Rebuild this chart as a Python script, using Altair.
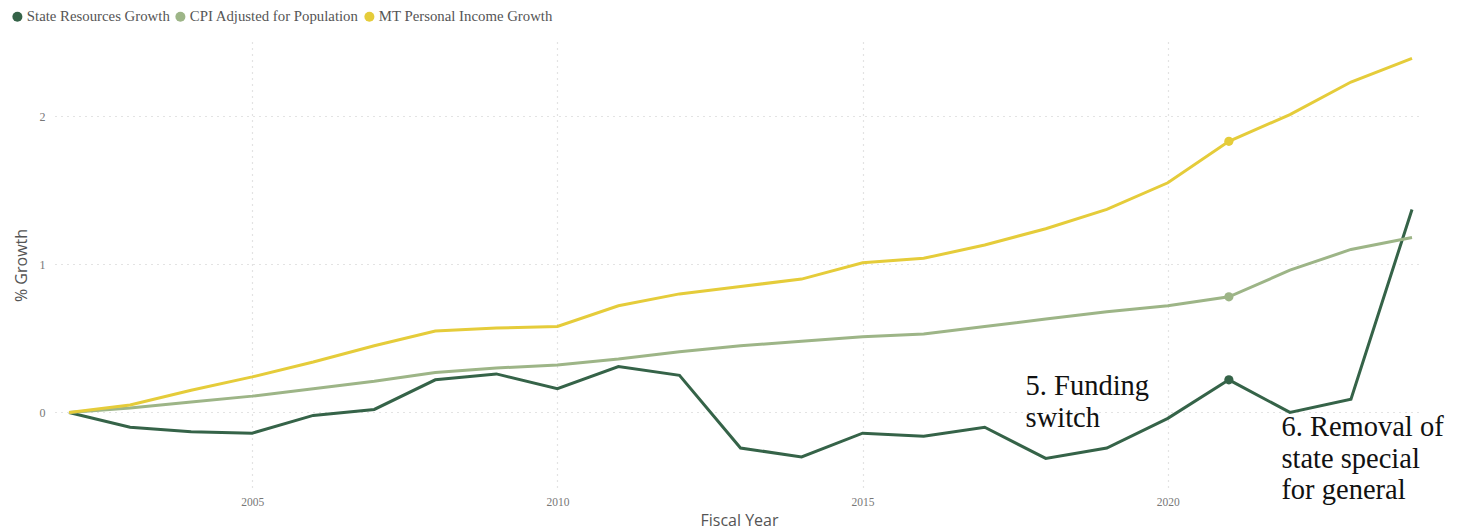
import altair as alt
import pandas as pd

years = list(range(2002, 2025))
state_resources = [0.0, -0.10, -0.13, -0.14, -0.02, 0.02, 0.22, 0.26, 0.16, 0.31, 0.25,
                   -0.24, -0.30, -0.14, -0.16, -0.10, -0.31, -0.24, -0.04, 0.22, 0.0, 0.09, 1.37]
cpi_adjusted = [0.0, 0.03, 0.07, 0.11, 0.16, 0.21, 0.27, 0.30, 0.32, 0.36, 0.41,
                0.45, 0.48, 0.51, 0.53, 0.58, 0.63, 0.68, 0.72, 0.78, 0.96, 1.10, 1.18]
mt_income = [0.0, 0.05, 0.15, 0.24, 0.34, 0.45, 0.55, 0.57, 0.58, 0.72, 0.80,
             0.85, 0.90, 1.01, 1.04, 1.13, 1.24, 1.37, 1.55, 1.83, 2.01, 2.23, 2.39]

series_names = ["State Resources Growth", "CPI Adjusted for Population", "MT Personal Income Growth"]
series_colors = ["#356348", "#9DB587", "#E5CC3A"]
marker_year = 2021

annotations = [
    {"year": 2017.67, "value": 0.176, "label": "5. Funding\nswitch"},
    {"year": 2021.86, "value": -0.10, "label": "6. Removal of\nstate special\nfor general"},
]

rows = []
for name, vals in zip(series_names, [state_resources, cpi_adjusted, mt_income]):
    for y, v in zip(years, vals):
        rows.append({"Fiscal Year": y, "Growth": v, "Series": name})
df = pd.DataFrame(rows)
ann_df = pd.DataFrame(annotations)

x_scale = alt.Scale(domain=[2001.77, 2024.18], nice=False, zero=False)
y_scale = alt.Scale(domain=[-0.51, 2.5], nice=False, zero=False)
color_scale = alt.Scale(domain=series_names, range=series_colors)

x_enc = alt.X("Fiscal Year:Q", scale=x_scale,
              axis=alt.Axis(values=[2005, 2010, 2015, 2020], format="d", title="Fiscal Year",
                            grid=True, gridDash=[1, 5], gridColor="#C8C8C8", gridWidth=1.2,
                            domain=False, ticks=False, labelFont="Liberation Serif",
                            labelFontSize=11.5, labelColor="#777777", labelPadding=8,
                            titleFont="Open Sans", titleFontSize=16, titleFontWeight="normal",
                            titleColor="#555555", titlePadding=5))
y_enc = alt.Y("Growth:Q", scale=y_scale,
              axis=alt.Axis(values=[0, 1, 2], format="d", title="% Growth",
                            grid=True, gridDash=[1, 5], gridColor="#C8C8C8", gridWidth=1.2,
                            domain=False, ticks=False, labelFont="Liberation Serif",
                            labelFontSize=12, labelColor="#777777", labelPadding=10,
                            titleFont="Open Sans", titleFontSize=16, titleFontWeight="normal",
                            titleColor="#555555", titlePadding=10))
color_enc = alt.Color("Series:N", scale=color_scale, sort=series_names,
                      legend=alt.Legend(title=None, orient="none", legendX=-45, legendY=-33,
                                        direction="horizontal", symbolType="circle",
                                        symbolSize=100, symbolStrokeWidth=0,
                                        labelFont="Liberation Serif", labelFontSize=14.8,
                                        labelColor="#555555", labelOffset=2, columnPadding=3,
                                        labelLimit=400, symbolOpacity=1))

lines = alt.Chart(df).mark_line(strokeWidth=3, strokeJoin="miter").encode(
    x=x_enc, y=y_enc, color=color_enc, order="Fiscal Year:Q"
)
points = alt.Chart(df).mark_circle(size=85, opacity=1).encode(
    x="Fiscal Year:Q", y="Growth:Q",
    color=alt.Color("Series:N", scale=color_scale, legend=None)
).transform_filter(alt.datum["Fiscal Year"] == marker_year)

texts = alt.Chart(ann_df).mark_text(
    align="left", baseline="middle", font="Liberation Serif", fontSize=28.5,
    lineHeight=31.5, lineBreak="\n", color="#111111"
).encode(x="year:Q", y="value:Q", text="label:N")

chart = alt.layer(lines, points, texts).properties(
    width=1368, height=446,
    padding={"left": 55, "top": 42, "right": 45, "bottom": 43},
    autosize=alt.AutoSizeParams(type="none"),
    background="white",
).configure_view(stroke=None)

chart.save("out.html", embed_options={"renderer": "svg", "actions": False})
